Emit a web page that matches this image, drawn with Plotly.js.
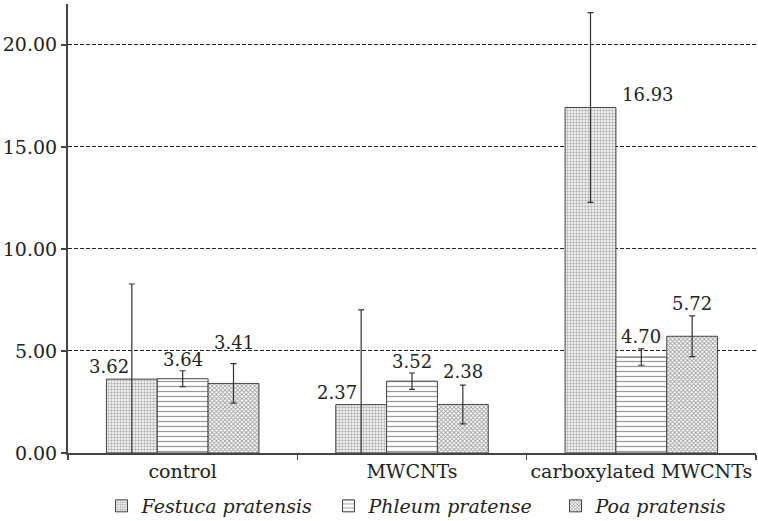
<!DOCTYPE html>
<html>
<head>
<meta charset="utf-8">
<script src="https://cdn.plot.ly/plotly-3.0.1.min.js"></script>
<style>
  html, body { margin: 0; padding: 0; background: #fff; }
  #chart { width: 758px; height: 521px; }
</style>
</head>
<body>
<div id="chart"></div>
<script>
// ---- data ----
const categories = ["control", "MWCNTs", "carboxylated MWCNTs"];
const seriesNames = ["Festuca pratensis", "Phleum pratense", "Poa pratensis"];
const festucaValues = [3.62, 2.37, 16.93];
const phleumValues  = [3.64, 3.52, 4.70];
const poaValues     = [3.41, 2.38, 5.72];
const festucaErrors = [4.66, 4.64, 4.65];
const phleumErrors  = [0.39, 0.40, 0.40];
const poaErrors     = [0.97, 0.95, 1.00];
const yTickValues = [0, 5, 10, 15, 20];

// ---- style ----
const W = 758, H = 521;
const margin = {l: 68, r: 2, t: 4, b: 68, autoexpand: false};
const bargap = 0.335;
const fontFamily = "DejaVu Serif";
const patterns = [
  {shape: ".", bgcolor: "#ffffff", fgcolor: "#666666", size: 3, solidity: 0.5, fillmode: "overlay"},
  {shape: "-", bgcolor: "#ffffff", fgcolor: "#333333", size: 5, solidity: 0.25, fillmode: "overlay"},
  {shape: "x", bgcolor: "#ffffff", fgcolor: "#3a3a3a", size: 3, solidity: 0.5, fillmode: "overlay"}
];
// label placement: anchor on bar top ('bar') or on error bar top ('err'), plus pixel nudges
const labelAnchor = [["bar", "bar", "bar"], ["err", "err", "err"], ["err", "err", "err"]];
const labelDx = [[-23, -24, 58], [0, 0, 0], [0, 0, 0]];
const labelDy = [[0, 0, 0], [-1, -1, 0], [9, 1, 0]];

const values = [festucaValues, phleumValues, poaValues];
const errors = [festucaErrors, phleumErrors, poaErrors];

const traces = seriesNames.map((name, i) => ({
  type: "bar",
  name: name,
  x: categories,
  y: values[i],
  marker: {color: "#ffffff", pattern: patterns[i], line: {color: "#444444", width: 1}},
  error_y: {type: "data", array: errors[i], visible: true, color: "#333333", thickness: 1.2, width: 3},
  hoverinfo: "skip"
}));

// annotations for value labels
const plotW = W - margin.l - margin.r;
const catW = plotW / categories.length;
const barW = catW * (1 - bargap) / seriesNames.length;
const annotations = [];
seriesNames.forEach((name, i) => {
  categories.forEach((c, j) => {
    const v = values[i][j];
    const yPos = labelAnchor[i][j] === "bar" ? v : v + errors[i][j];
    annotations.push({
      x: c, y: yPos, xref: "x", yref: "y",
      text: v.toFixed(2),
      showarrow: false,
      xanchor: "center", yanchor: "bottom",
      xshift: (i - (seriesNames.length - 1) / 2) * barW + labelDx[i][j],
      yshift: labelDy[i][j],
      font: {family: fontFamily, size: 18, color: "#222222"}
    });
  });
});

const layout = {
  width: W, height: H,
  margin: margin,
  paper_bgcolor: "#ffffff",
  plot_bgcolor: "#ffffff",
  barmode: "group",
  bargap: bargap,
  bargroupgap: 0,
  showlegend: true,
  font: {family: fontFamily, color: "#222222"},
  legend: {
    orientation: "h",
    x: 0.5 + 30 / plotW, xanchor: "center",
    y: -0.118, yanchor: "middle",
    entrywidth: 182,
    font: {family: fontFamily, size: 19, color: "#222222", style: "italic"},
    itemclick: false
  },
  xaxis: {
    type: "category",
    showline: true, linecolor: "#444444", linewidth: 2,
    ticks: "outside", tickson: "boundaries", ticklen: 5, tickcolor: "#444444", tickwidth: 1.5,
    tickangle: 0,
    tickfont: {family: fontFamily, size: 19, color: "#222222"},
    showgrid: false, zeroline: false,
    fixedrange: true
  },
  yaxis: {
    range: [0, 22],
    tickvals: yTickValues,
    tickformat: ".2f",
    showline: true, linecolor: "#444444", linewidth: 2,
    ticks: "outside", ticklen: 5, tickcolor: "#444444", tickwidth: 1.5,
    tickfont: {family: fontFamily, size: 19, color: "#222222"},
    showgrid: true, gridcolor: "#222222", gridwidth: 1, griddash: "4px,2px",
    zeroline: false,
    fixedrange: true
  },
  annotations: annotations
};

Plotly.newPlot("chart", traces, layout, {displayModeBar: false, staticPlot: true});
</script>
</body>
</html>
